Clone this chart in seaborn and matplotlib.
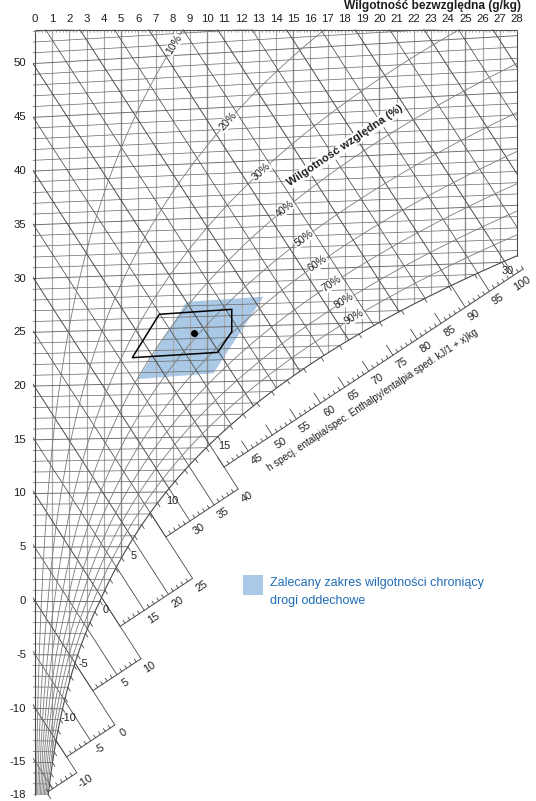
import numpy as np
import pandas as pd
import matplotlib
matplotlib.use("Agg")
import matplotlib.pyplot as plt
from matplotlib.patches import Polygon, Rectangle
import seaborn as sns

# ---------------- data ----------------
x_ticks = list(range(0, 29))                       # absolute humidity labels (g/kg)
t_ticks = [50, 45, 40, 35, 30, 25, 20, 15, 10, 5, 0, -5, -10, -15, -18]
rh_levels = [10, 20, 30, 40, 50, 60, 70, 80, 90]   # relative humidity curves (%)
rh_label_x = [7.44, 10.63, 12.66, 14.0, 15.1, 15.98, 16.73, 17.43, 18.01]
rh_label_y = [52.37, 45.49, 40.84, 37.49, 34.79, 32.46, 30.79, 29.21, 27.72]
sat_labels = [-10, -5, 0, 5, 10, 15, 30]           # isotherm labels on saturation line
seg_h0 = [-16, -10, 0, 10, 25, 40]                 # enthalpy scale segments (kJ/kg)
seg_h1 = [-10, 0, 10, 25, 40, 102]
seg_a = [-18.55, -16.45, -11.9, -7.6, -2.1, 0.82]
h_labels = [[-10], [-5, 0], [5, 10], [15, 20, 25], [30, 35, 40],
            [45, 50, 55, 60, 65, 70, 75, 80, 85, 90, 95, 100]]
extended_h = [90, 95, 100]
zone_x = [5.97, 8.81, 13.27, 10.36]                # recommended zone (g/kg, degC)
zone_t = [20.42, 27.39, 27.63, 20.78]
box_x = [5.65, 7.22, 11.43, 11.43, 10.61]          # black outline
box_t = [22.40, 26.32, 26.57, 24.53, 22.68]
dot_x, dot_t = 9.24, 24.54

# ---------------- chart geometry (Mollier h-x) ----------------
P = 101325.0
def psat(t):
    t = np.asarray(t, float)
    return np.where(t >= 0, 611.2 * np.exp(17.62 * t / (243.12 + t)),
                    611.2 * np.exp(22.46 * t / (272.62 + t)))
def x_of(t, phi):
    ps = phi * psat(t)
    return 622.0 * ps / (P - ps)
def Yc(x, t):
    x = np.asarray(x, float); t = np.asarray(t, float)
    return (1.006 * t + 0.00186 * x * t) / 1.006
def Y_h(x, h):
    return (h - 2.501 * np.asarray(x, float)) / 1.006

SX, SY = 17.2143, 10.75
XMIN = -35 / SX; XMAX = XMIN + 536 / SX
YMAX = 601 / SY; YMIN = YMAX - 801 / SY
Y_TOP = (601 - 29.5) / SY
B = 1.06

hv = np.array([SX, SY * 2.501 / 1.006]); hv = hv / np.linalg.norm(hv)
def along_h(x, Y, L):
    return x + L * hv[0] / SX, Y - L * hv[1] / SY
def off(x, Y, dxp, dyp):
    return x + dxp / SX, Y - dyp / SY

sns.set_theme(style="white")
plt.rcParams["font.family"] = ["Liberation Sans", "DejaVu Sans"]
TXT = "#1e1e1e"
LN = "#4a4a4a"

fig = plt.figure(figsize=(5.36, 8.01), dpi=100)
ax = fig.add_axes([0, 0, 1, 1])
ax.set_xlim(XMIN, XMAX); ax.set_ylim(YMIN, YMAX); ax.axis("off")

t_f = np.linspace(-18, 34, 2601)
xs_f = x_of(t_f, 1.0); Ys_f = Yc(xs_f, t_f)
hs_f = 1.006 * Ys_f + 2.501 * xs_f
t28 = float(np.interp(28, xs_f, t_f))
m = t_f < t28
sat_x = np.append(xs_f[m], 28.0); sat_Y = np.append(Ys_f[m], Yc(28, t28))

poly = [(-0.12, Y_TOP), (28, Y_TOP)] + list(zip(sat_x[::-1], sat_Y[::-1])) + \
       [(-0.12, float(Yc(-0.12, -18)))]
clip = Polygon(poly, closed=True, transform=ax.transData, fc="none", ec="none")
ax.add_patch(clip)

# recommended zone
zx = np.array(zone_x); zY = Yc(zx, np.array(zone_t))
ax.fill(zx, zY, color="#a9c9e7", lw=0, zorder=0.5)

lines = []
for xv in range(1, 28):
    c, w = ("#8e8e8e", 1.0) if xv % 5 == 0 else ("#a8a8a8", 0.85)
    lines += ax.plot([xv, xv], [YMIN, Y_TOP], color=c, lw=w, zorder=1)
for t in range(-18, 56):
    xx = np.array([-0.2, 28.5])
    lines += ax.plot(xx, Yc(xx, t), color="#666666", lw=0.5 if t % 5 else 0.65, zorder=1)
for h in range(-15, 125, 5):
    xx = np.array([-0.3, 29.0])
    lines += ax.plot(xx, Y_h(xx, h), color="#4c4c4c", lw=0.55 if h % 10 else 0.7, zorder=1.1)

tt = np.linspace(-18, 70, 1200)
df = pd.concat([pd.DataFrame({"x": x_of(tt, r / 100), "Y": Yc(x_of(tt, r / 100), tt),
                              "rh": f"{r}%"}) for r in rh_levels], ignore_index=True)
n0 = len(ax.lines)
sns.lineplot(data=df, x="x", y="Y", hue="rh", units="rh", estimator=None, sort=False,
             palette=["#7c7c7c"] * len(rh_levels), legend=False, lw=0.6, ax=ax, zorder=1.2)
lines += ax.lines[n0:]
for ln in lines:
    ln.set_clip_path(clip)

# borders
ax.plot([0, 28], [Y_TOP, Y_TOP], color=LN, lw=0.8, zorder=2)
ax.plot([0, 0], [Y_TOP, -18], color=LN, lw=0.8, zorder=2)
ax.plot([28, 28], [Y_TOP, sat_Y[-1]], color=LN, lw=0.8, zorder=2)
ax.plot(sat_x, sat_Y, color=LN, lw=0.8, zorder=2)
for xv in np.arange(0, 28.01, 0.2):
    ax.plot([xv, xv], [Y_TOP, Y_TOP - 2.5 / SY], color="#808080", lw=0.5, zorder=2)
for t in range(-18, int(t28) + 1):
    x0 = float(x_of(t, 1.0)); y0 = float(Yc(x0, t))
    x1, y1 = along_h(x0, y0, 4.5)
    ax.plot([x0, x1], [y0, y1], color=LN, lw=0.6, zorder=2)
for t in sat_labels:
    x0 = float(x_of(t, 1.0)); y0 = float(Yc(x0, t))
    lx, ly = off(x0, y0, 6, 9)
    ax.text(lx, ly, str(t), ha="center", va="center", fontsize=7.8, color=TXT)

# enthalpy scale
def scale_pt(h, a):
    xq = (h - 1.006 * a) / (2.501 + 1.006 * B)
    return xq, a + B * xq
for k in range(len(seg_h0)):
    a = seg_a[k]
    p0 = scale_pt(seg_h0[k], a); p1 = scale_pt(seg_h1[k], a)
    ax.plot([p0[0], p1[0]], [p0[1], p1[1]], color=LN, lw=0.7, zorder=2)
    for hh in range(int(np.ceil(seg_h0[k])), int(np.floor(seg_h1[k])) + 1):
        sx, sy = scale_pt(hh, a)
        if hh % 5 == 0 and (k < len(seg_h0) - 1 or hh in extended_h):
            tsat = float(np.interp(hh, hs_f, t_f))
            x0 = float(x_of(tsat, 1.0)); y0 = float(Yc(x0, tsat))
            ax.plot([x0, sx], [y0, sy], color=LN, lw=0.6, zorder=2)
        else:
            L = 12 if hh % 5 == 0 else 3.4
            ex, ey = along_h(sx, sy, -L)
            ax.plot([sx, ex], [sy, ey], color=LN, lw=0.6, zorder=2)
    for hh in h_labels[k]:
        sx, sy = scale_pt(hh, a)
        lx, ly = off(sx, sy, 9, 8)
        ax.text(lx, ly, str(hh), rotation=33, ha="center", va="center",
                fontsize=7.8, color=TXT)

# outline + dot
bx = np.array(box_x); bY = Yc(bx, np.array(box_t))
ax.fill(bx, bY, fc="none", ec="black", lw=1.1, zorder=3)
ax.plot([dot_x], [float(Yc(dot_x, dot_t))], "o", color="black", ms=4, zorder=4)

# RH labels: placed on each curve at the point nearest to the read label position
for r, lx, ly in zip(rh_levels, rh_label_x, rh_label_y):
    cx = x_of(tt, r / 100); cy = Yc(cx, tt)
    d = ((cx - lx) * SX) ** 2 + ((cy - ly) * SY) ** 2
    i = int(np.argmin(d))
    ang = np.degrees(np.arctan2((cy[i + 1] - cy[i - 1]) * SY, (cx[i + 1] - cx[i - 1]) * SX))
    ax.text(cx[i], cy[i], f"{r}%", rotation=ang, ha="center", va="center", fontsize=7.6,
            color=TXT, zorder=5, rotation_mode="anchor",
            bbox=dict(boxstyle="square,pad=0.05", fc="white", ec="none"))

# axis labels
Ylab = (601 - 19.5) / SY
for xv in x_ticks:
    ax.text(xv, Ylab, str(xv), ha="center", va="center", fontsize=8.2, color=TXT)
for t in t_ticks:
    ax.text(-0.52, t, str(t), ha="right", va="center", fontsize=8.2, color=TXT)
ax.text(28.23, (601 - 6.5) / SY, "Wilgotność bezwzględna (g/kg)", ha="right", va="center",
        fontsize=8.6, fontweight="bold", color=TXT)
ax.text((345 - 35) / SX, (601 - 146) / SY, "Wilgotność względna (%)", rotation=34,
        ha="center", va="center", fontsize=8.2, fontweight="bold", color=TXT, zorder=5,
        bbox=dict(boxstyle="square,pad=0.1", fc="white", ec="none"))
ax.text((373 - 35) / SX, (601 - 400) / SY,
        "h specj. entalpia/spec. Enthalpy/entalpia sped. kJ/1 + x)kg", rotation=33.4,
        ha="center", va="center", fontsize=7.0, color=TXT)

# legend
ax.add_patch(Rectangle((243 / 536, (801 - 595) / 801), 20 / 536, 20 / 801,
                       transform=ax.transAxes, fc="#a9c9e7", ec="none"))
ax.text(270 / 536, (801 - 583) / 801, "Zalecany zakres wilgotności chroniący",
        transform=ax.transAxes, ha="left", va="center", fontsize=9, color="#1f6db8")
ax.text(270 / 536, (801 - 601) / 801, "drogi oddechowe",
        transform=ax.transAxes, ha="left", va="center", fontsize=9, color="#1f6db8")

ax.set_xlim(XMIN, XMAX); ax.set_ylim(YMIN, YMAX)
fig.savefig("out.png", dpi=100)
